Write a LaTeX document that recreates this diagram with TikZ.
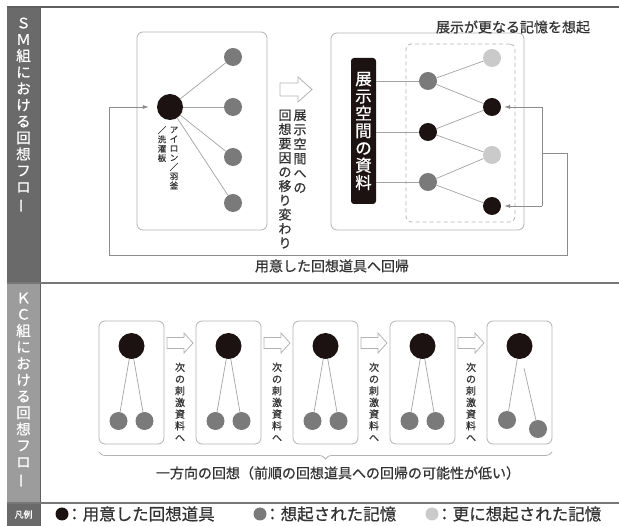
\documentclass[tikz,border=0pt]{standalone}
\usepackage{fontspec}
\setmainfont{Noto Sans CJK JP}[FakeBold=0.7]
\usetikzlibrary{decorations.pathreplacing,arrows.meta}
\definecolor{sbdark}{HTML}{6A6A6A}
\definecolor{sbmid}{HTML}{9C9C9C}
\definecolor{blk}{HTML}{1C1212}
\definecolor{gry}{HTML}{7A7A7A}
\definecolor{lgt}{HTML}{CACACA}
\definecolor{boxc}{HTML}{B3B3B3}
\definecolor{linec}{HTML}{A3A3A3}
\definecolor{retc}{HTML}{8C8C8C}
\definecolor{txt}{HTML}{333333}
\definecolor{sepc}{HTML}{777777}
\newcommand{\vbar}{\rotatebox[origin=c]{90}{ー}}
\begin{document}
\begin{tikzpicture}[x=1pt,y=-1pt,
  bigdot/.style={circle,fill=blk,minimum size=26pt,inner sep=0pt},
  bdot/.style={circle,fill=blk,minimum size=18pt,inner sep=0pt},
  gdot/.style={circle,fill=gry,minimum size=18pt,inner sep=0pt},
  ldot/.style={circle,fill=lgt,minimum size=18pt,inner sep=0pt},
  panel/.style={draw=boxc,line width=0.8pt,rounded corners=6pt,inner sep=0pt},
  dpanel/.style={draw=boxc,line width=0.8pt,dash pattern=on 4pt off 3pt,rounded corners=5pt,inner sep=0pt},
  link/.style={draw=linec,line width=0.7pt},
  retl/.style={draw=retc,line width=0.7pt},
  arr/.style={-{Latex[length=6pt,width=4pt]}},
  harrow/.style={draw=boxc,line width=0.8pt,fill=white,line join=miter},
  sidetxt/.style={text=white,align=center,inner sep=0pt,font=\fontsize{14.5}{16.4}\selectfont},
  vtxt/.style={text=txt,align=center,inner sep=0pt},
  htxt/.style={text=txt,inner sep=0pt,font=\fontsize{14}{16}\selectfont},
  legtxt/.style={text=txt,inner sep=0pt,anchor=west,font=\fontsize{16.5}{18}\selectfont},
  sep/.style={draw=sepc,line width=1.2pt}
]
\useasboundingbox (0,0) rectangle (619,526);
\fill[white] (0,0) rectangle (619,526);

% ---------- sidebars ----------
\fill[sbdark] (7,7) rectangle (40,283);
\fill[sbmid] (7,283) rectangle (40,503);
\fill[sbdark] (7,503) rectangle (40,526);
\draw[sepc!80!black,line width=0.8pt] (40,7) -- (40,526);
\draw[draw=sbdark!90!black,line width=1.5pt] (7,7) -- (619,7);
\draw[sep] (7,283) -- (619,283);
\draw[sep] (7,503) -- (619,503);

\node[sidetxt] (smside) at (23.5,115.2) {Ｓ\\Ｍ\\組\\に\\お\\け\\る\\回\\想\\フ\\ロ\\\vbar};
\node[sidetxt] (kcside) at (23.5,390.2) {Ｋ\\Ｃ\\組\\に\\お\\け\\る\\回\\想\\フ\\ロ\\\vbar};
\node[text=white,inner sep=0pt,font=\fontsize{9}{10}\selectfont] (hanrei) at (23.5,514.5) {凡例};

% ---------- SM: left box ----------
\node[panel,minimum width=130pt,minimum height=198pt] (lbox) at (202,131) {};
\node[bigdot] (iron) at (170,107) {};
\node[gdot] (g1) at (233,57) {};
\node[gdot] (g2) at (233,107) {};
\node[gdot] (g3) at (233,157) {};
\node[gdot] (g4) at (233,203) {};
\draw[link] (iron) -- (g1);
\draw[link] (iron) -- (g2);
\draw[link] (iron) -- (g3);
\draw[link] (iron) -- (g4);
\node[vtxt,font=\fontsize{8.5}{9.3}\selectfont] (lab1) at (174,158) {ア\\イ\\ロ\\ン\\／\\羽\\釜};
\node[vtxt,font=\fontsize{8.5}{9.3}\selectfont] (lab2) at (162,144) {／\\洗\\濯\\板};

% hollow arrow
\draw[harrow] (280,83) -- (298,83) -- (298,77) -- (312,89.5) -- (298,102) -- (298,96) -- (280,96) -- cycle;
\node[vtxt,font=\fontsize{13}{14.5}\selectfont] (tr1) at (300,151.25) {展\\示\\空\\間\\へ\\の};
\node[vtxt,font=\fontsize{13}{14.2}\selectfont] (tr2) at (285,179) {回\\想\\要\\因\\の\\移\\り\\変\\わ\\り};

% ---------- SM: right box ----------
\node[panel,minimum width=193pt,minimum height=197pt] (rbox) at (427.5,131.5) {};
\node[dpanel,minimum width=109pt,minimum height=178pt] (dbox) at (460.5,133) {};
\node[htxt] (title) at (513,27) {展示が更なる記憶を想起};
\node[fill=blk,rounded corners=3pt,minimum width=25pt,minimum height=146pt,inner sep=0pt,
      text=white,align=center,font=\fontsize{16.5}{17.3}\selectfont] (shiryo) at (363.5,131) {展\\示\\空\\間\\の\\資\\料};
\node[gdot] (a1) at (428,81) {};
\node[bdot] (a2) at (428,132) {};
\node[gdot] (a3) at (428,182) {};
\node[ldot] (b1) at (492,58) {};
\node[bdot] (b2) at (492,107) {};
\node[ldot] (b3) at (492,155) {};
\node[bdot] (b4) at (492,206) {};
\draw[link] (shiryo.east |- a1) -- (a1);
\draw[link] (shiryo.east |- a2) -- (a2);
\draw[link] (shiryo.east |- a3) -- (a3);
\draw[link] (a1) -- (b1);
\draw[link] (a1) -- (b2);
\draw[link] (a2) -- (b2);
\draw[link] (a2) -- (b3);
\draw[link] (a3) -- (b3);
\draw[link] (a3) -- (b4);

% ---------- return loop ----------
\coordinate (rt) at (542,107);
\coordinate (rb) at (542,206);
\coordinate (rm) at (542,153);
\coordinate (rr) at (567,153);
\coordinate (rbr) at (567,255);
\coordinate (rbl) at (109,255);
\coordinate (rtl) at (109,107);
\draw[retl] (rt) -- (rb);
\draw[retl,arr,shorten >=3pt] (rt) -- (b2);
\draw[retl,arr,shorten >=3pt] (rb) -- (b4);
\draw[retl,arr,shorten >=8pt] (rm) -- (rr) -- (rbr) -- (rbl) -- (rtl) -- (iron);
\node[htxt] (ret) at (332,266) {用意した回想道具へ回帰};

% ---------- KC ----------
\foreach \i/\cx in {1/131.5,2/228.5,3/325.5,4/422.5,5/519.5}{
  \node[panel,minimum width=65pt,minimum height=123pt] (kbox\i) at (\cx,382.5) {};
  \coordinate (kc\i) at (\cx,346);
}
\foreach \i/\cx in {1/131.5,2/228.5,3/325.5,4/422.5}{
  \node[gdot] (kl\i) at (\cx-13,421) {};
  \node[gdot] (kr\i) at (\cx+13,421) {};
  \draw[link] (kc\i) -- (kl\i);
  \draw[link] (kc\i) -- (kr\i);
}
\node[gdot] (kl5) at (507,420) {};
\node[gdot] (kr5) at (538,429) {};
\coordinate (d5) at (524,368);
\draw[link] (kc5) -- (kl5);
\draw[link] (d5) -- (kr5);
\foreach \i in {1,...,5}{ \node[bigdot] (k\i) at (kc\i) {}; }

\foreach \ax in {164,261,358,455}{
  \draw[harrow] (\ax+3,337.5) -- (\ax+20,337.5) -- (\ax+20,333) -- (\ax+29,343) -- (\ax+20,353) -- (\ax+20,348.5) -- (\ax+3,348.5) -- cycle;
}
\foreach \j/\lx in {1/180,2/277,3/374,4/471}{
  \node[vtxt,font=\fontsize{10}{11.7}\selectfont] (nx\j) at (\lx,402) {次\\の\\刺\\激\\資\\料\\へ};
}

\coordinate (brL) at (99,452);
\coordinate (brR) at (552,452);
\draw[draw=boxc,line width=0.8pt,decorate,decoration={brace,mirror,amplitude=7pt}] (brL) -- (brR);
\node[htxt] (oneway) at (338,473) {一方向の回想（前順の回想道具への回帰の可能性が低い）};

% ---------- legend ----------
\node[circle,fill=blk,minimum size=13pt,inner sep=0pt] (lg1) at (62,514) {};
\node[legtxt] (lt1) at (66,514) {：用意した回想道具};
\node[circle,fill=gry,minimum size=13pt,inner sep=0pt] (lg2) at (260,514) {};
\node[legtxt] (lt2) at (264,514) {：想起された記憶};
\node[circle,fill=lgt,minimum size=13pt,inner sep=0pt] (lg3) at (432,514) {};
\node[legtxt] (lt3) at (436,514) {：更に想起された記憶};
\end{tikzpicture}
\end{document}
